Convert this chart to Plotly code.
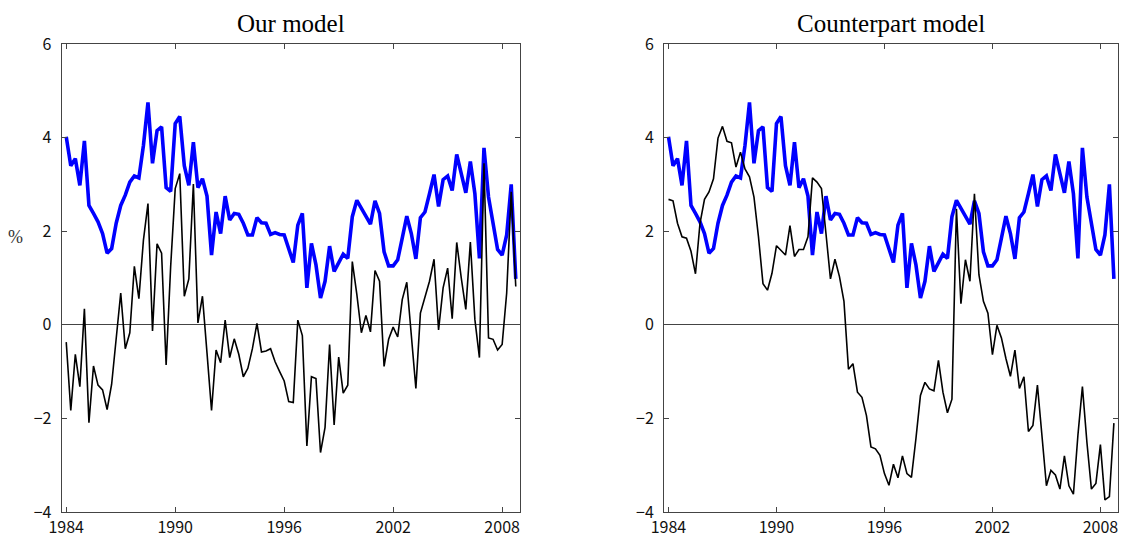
import plotly.graph_objects as go

# Quarterly observations, 1984Q1 - 2008Q4
start_year = 1984
n_quarters = 100
dates = [start_year + 0.25 * i for i in range(n_quarters)]

# Blue series (same in both panels)
blue_series = [
    4.02, 3.40, 3.55, 2.98, 3.93, 2.55, 2.38, 2.20, 1.95, 1.53,
    1.63, 2.17, 2.55, 2.77, 3.05, 3.18, 3.14, 3.83, 4.75, 3.45,
    4.15, 4.23, 2.93, 2.85, 4.30, 4.45, 3.40, 2.98, 3.90, 2.93,
    3.12, 2.75, 1.49, 2.41, 1.95, 2.75, 2.24, 2.38, 2.36, 2.17,
    1.92, 1.92, 2.29, 2.18, 2.17, 1.93, 1.97, 1.93, 1.92, 1.60,
    1.33, 2.13, 2.38, 0.79, 1.74, 1.28, 0.57, 0.93, 1.68, 1.14,
    1.32, 1.51, 1.42, 2.31, 2.66, 2.48, 2.31, 2.15, 2.65, 2.38,
    1.56, 1.26, 1.26, 1.39, 1.85, 2.32, 1.95, 1.41, 2.29, 2.41,
    2.80, 3.21, 2.53, 3.10, 3.18, 2.87, 3.64, 3.26, 2.82, 3.49,
    2.80, 1.42, 3.78, 2.73, 2.17, 1.61, 1.49, 1.92, 3.00, 0.98,
]

# Black series, "Our model"
black_our = [
    -0.37, -1.83, -0.63, -1.32, 0.34, -2.09, -0.88, -1.29, -1.39, -1.81,
    -1.27, -0.35, 0.68, -0.51, -0.17, 1.25, 0.56, 1.81, 2.59, -0.13,
    1.73, 1.53, -0.86, 1.25, 2.91, 3.23, 0.61, 0.98, 3.01, 0.04,
    0.61, -0.60, -1.83, -0.54, -0.81, 0.10, -0.70, -0.30, -0.63, -1.11,
    -0.93, -0.51, 0.03, -0.58, -0.56, -0.51, -0.79, -1.00, -1.20, -1.64,
    -1.66, 0.10, -0.23, -2.59, -1.11, -1.15, -2.73, -2.19, -0.42, -2.14,
    -0.69, -1.46, -1.29, 1.35, 0.65, -0.17, 0.20, -0.15, 1.16, 0.93,
    -0.89, -0.31, -0.05, -0.26, 0.54, 0.91, -0.25, -1.36, 0.25, 0.57,
    0.93, 1.40, -0.11, 0.79, 1.21, 0.13, 1.76, 1.00, 0.33, 1.77,
    0.11, -0.70, 3.45, -0.28, -0.31, -0.54, -0.42, 0.68, 2.84, 0.82,
]

# Black series, "Counterpart model"
black_counterpart = [
    2.68, 2.65, 2.17, 1.88, 1.85, 1.57, 1.09, 2.17, 2.68, 2.84,
    3.12, 3.99, 4.24, 3.92, 3.89, 3.37, 3.69, 3.33, 3.16, 2.73,
    1.88, 0.88, 0.74, 1.10, 1.69, 1.60, 1.49, 2.12, 1.46, 1.61,
    1.61, 1.88, 3.14, 3.05, 2.91, 1.95, 0.98, 1.40, 1.03, 0.50,
    -0.95, -0.83, -1.44, -1.55, -1.94, -2.61, -2.65, -2.79, -3.18, -3.43,
    -2.98, -3.27, -2.80, -3.18, -3.26, -2.43, -1.51, -1.23, -1.37, -1.41,
    -0.76, -1.44, -1.88, -1.59, 2.48, 0.45, 1.39, 0.93, 2.80, 1.07,
    0.50, 0.25, -0.64, -0.01, -0.28, -0.72, -1.10, -0.54, -1.36, -1.11,
    -2.28, -2.15, -1.29, -2.36, -3.44, -3.11, -3.21, -3.51, -2.80, -3.44,
    -3.62, -2.36, -1.32, -2.51, -3.51, -3.39, -2.56, -3.74, -3.67, -2.10,
]

panel_titles = ["Our model", "Counterpart model"]
x_ticks = [1984, 1990, 1996, 2002, 2008]
y_ticks = [-4, -2, 0, 2, 4, 6]

# The page body has an 8px margin, so the figure is drawn offset by (8, 8)
# and kept inside the visible window.
OFF = 8
W, H = 1127 - 2 * OFF, 540 - OFF


def px_x(x):
    return (x - OFF) / W


def px_y(y):
    return (H - (y - OFF)) / H


fig = go.Figure()

black_sets = [black_our, black_counterpart]
x_domains = [[px_x(61.7), px_x(520.3)], [px_x(664.0), px_x(1118.4)]]
y_domain = [px_y(512), px_y(44)]

for k in range(2):
    xa = "x" if k == 0 else "x2"
    ya = "y" if k == 0 else "y2"
    fig.add_trace(go.Scatter(x=dates, y=blue_series, mode="lines",
                             line=dict(color="#0000ff", width=3.6),
                             xaxis=xa, yaxis=ya, showlegend=False))
    fig.add_trace(go.Scatter(x=dates, y=black_sets[k], mode="lines",
                             line=dict(color="#000000", width=1.6),
                             xaxis=xa, yaxis=ya, showlegend=False))

tick_font = dict(family="Noto Sans CJK JP, sans-serif", size=16, color="#111")
axis_common = dict(showline=True, linecolor="#444", linewidth=1, mirror="ticks",
                   ticks="inside", ticklen=5, tickcolor="#444", showgrid=False,
                   tickfont=tick_font, automargin=False)

for k in range(2):
    sfx = "" if k == 0 else "2"
    fig.update_layout(**{
        "xaxis" + sfx: dict(axis_common, domain=x_domains[k], range=[1983.75, 2009.0],
                            tickvals=x_ticks, ticktext=[str(t) for t in x_ticks],
                            zeroline=False, anchor="y" + sfx, ticklabelstandoff=1),
        "yaxis" + sfx: dict(axis_common, domain=y_domain, range=[-4, 6],
                            tickvals=y_ticks, zeroline=True, zerolinecolor="#444",
                            zerolinewidth=1, anchor="x" + sfx, ticklabelstandoff=6),
    })

annotations = []
for k in range(2):
    cx = (x_domains[k][0] + x_domains[k][1]) / 2
    annotations.append(dict(text=panel_titles[k], x=cx, y=px_y(9),
                            xref="paper", yref="paper", showarrow=False,
                            xanchor="center", yanchor="top", borderpad=0,
                            font=dict(family="Liberation Serif, serif", size=25, color="#000")))
annotations.append(dict(text="%", x=px_x(15), y=px_y(237), xref="paper", yref="paper",
                        showarrow=False, xanchor="center", yanchor="middle",
                        font=dict(family="Liberation Serif, serif", size=18, color="#333")))

fig.update_layout(width=W, height=H, margin=dict(l=0, r=0, t=0, b=0, autoexpand=False),
                  paper_bgcolor="white", plot_bgcolor="white",
                  annotations=annotations, showlegend=False)

fig.write_html("out.html")
